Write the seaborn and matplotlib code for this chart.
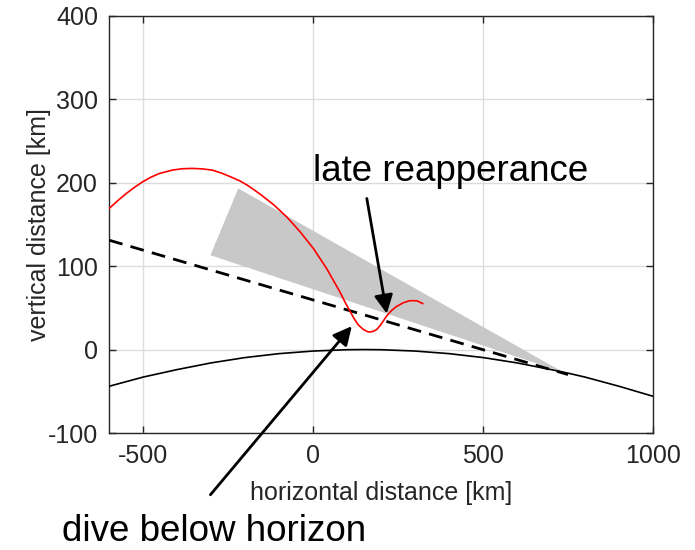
import numpy as np
import pandas as pd
import matplotlib
matplotlib.use("Agg")
import matplotlib.pyplot as plt
import seaborn as sns

# ---- data ----
traj_x = [-600, -575, -551, -526, -502, -477, -453, -414, -385, -356, -327, -297, -270, -243, -215, -190, -155, -116, -77,
          -38, 1, 40, 79, 95, 108, 120, 133, 148, 160, 167, 177, 187, 197, 207, 216, 230, 245, 265, 284, 305, 323]
traj_y = [169, 178.2, 186.5, 194.2, 200.8, 206.5, 210.8, 215, 216.6, 217, 216.5, 215, 211.5, 207, 202, 196, 186, 173.5, 158.7,
          141, 121, 97, 69, 56, 46.5, 37.5, 29.5, 24, 21.5, 21, 21.8, 24, 28.5, 34.5, 40, 46.5, 51.5, 56, 58.5, 58.5, 55]

earth_x = [-600, -500, -400, -300, -200, -100, 0, 100, 150, 200, 300, 400, 500, 600, 700, 750, 800, 900, 1000]
earth_y = [-44, -33, -24, -16, -9.6, -4.9, -1.8, -0.2, 0, -0.2, -1.8, -4.9, -9.6, -16, -24, -28.3, -33, -44, -56]

los_x = [-600, 750]
los_y = [131, -30]

fov_x = [-302, -220, 735]
fov_y = [113, 193, -27]

xticks = [-500, 0, 500, 1000]
yticks = [-100, 0, 100, 200, 300, 400]

label_late = "late reapperance"
label_dive = "dive below horizon"

# ---- styling ----
sns.set_theme(style="white")
plt.rcParams['font.family'] = ['Liberation Sans', 'DejaVu Sans']
plt.rcParams['axes.unicode_minus'] = False

fig = plt.figure(figsize=(6.95, 5.5), dpi=100)
ax = fig.add_axes([0.157, 0.2127, 0.7826, 0.7588])

dark = "#262626"

ax.fill(fov_x, fov_y, color="#c8c8c8", lw=0, zorder=1)

earth = pd.DataFrame({"x": earth_x, "y": earth_y})
sns.lineplot(data=earth, x="x", y="y", ax=ax, color="black", lw=1.2, sort=False, estimator=None, zorder=3)

los = pd.DataFrame({"x": los_x, "y": los_y})
sns.lineplot(data=los, x="x", y="y", ax=ax, color="black", lw=2.0, sort=False, estimator=None,
             zorder=3).lines[-1].set_dashes([5, 3])

traj = pd.DataFrame({"x": traj_x, "y": traj_y})
sns.lineplot(data=traj, x="x", y="y", ax=ax, color="#ff0000", lw=1.2, sort=False, estimator=None, zorder=4)

ax.set_xlim(-600, 1000)
ax.set_ylim(-100, 400)
ax.set_xticks(xticks)
ax.set_yticks(yticks)
ax.set_xticklabels([str(t) for t in xticks])
ax.set_yticklabels([str(t) for t in yticks])
ax.grid(True, color="#dcdcdc", lw=1.0)
ax.set_axisbelow(True)
for s in ax.spines.values():
    s.set_color(dark)
    s.set_linewidth(1.0)
ax.tick_params(direction="in", length=5, width=1.0, color=dark, labelcolor=dark,
               labelsize=18, top=True, right=True, bottom=True, left=True, pad=8)
ax.set_xlabel("horizontal distance [km]", fontsize=18, color=dark, labelpad=9)
ax.set_ylabel("vertical distance [km]", fontsize=18, color=dark, labelpad=-2.5)

arrow = dict(arrowstyle="-|>", color="black", lw=2.0, mutation_scale=28, shrinkA=0, shrinkB=0)
ax.annotate("", xy=(217, 43), xytext=(158, 181), arrowprops=arrow, zorder=5)
ax.annotate("", xy=(114, 28), xytext=(-302, -174), arrowprops=arrow, annotation_clip=False, zorder=5)

ax.text(0, 213, label_late, fontsize=26.5, color="black", ha="left", va="center")
fig.text(0.089, 0.033, label_dive, fontsize=26.5, color="black", ha="left", va="center")

fig.savefig("out.png", dpi=100)
